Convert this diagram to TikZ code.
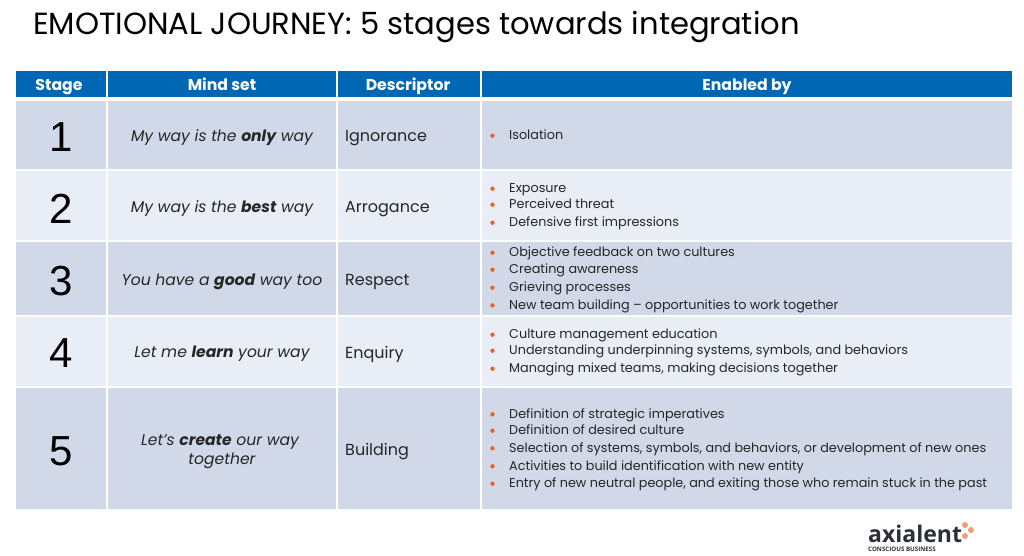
\documentclass[tikz,border=0pt]{standalone}
\usepackage{fontspec}
\setmainfont{Poppins}[Ligatures=ResetAll]
\newfontfamily\numfont{Liberation Sans}
\newfontfamily\logofont{Open Sans}
\definecolor{hdr}{HTML}{0067B5}
\definecolor{rowa}{HTML}{D1D8E8}
\definecolor{rowb}{HTML}{E9EDF5}
\definecolor{dot}{HTML}{E8622A}
\definecolor{ink}{HTML}{262626}
\definecolor{logodot}{HTML}{F0A070}
\definecolor{logoink}{HTML}{2B3038}
\tikzset{
  x=1pt,y=-1pt,
  cell/.style={anchor=north west,inner sep=0pt,outer sep=0pt,draw=none},
  hcell/.style={font=\fontsize{15.7}{16}\selectfont\bfseries,text=white,inner sep=0pt,anchor=base},
  num/.style={font=\numfont\fontsize{42}{42}\selectfont,text=black,inner sep=0pt,anchor=base},
  mind/.style={font=\fontsize{15.6}{19}\selectfont\itshape,text=ink,inner sep=0pt,anchor=base},
  desc/.style={font=\fontsize{16}{18}\selectfont,text=ink,inner sep=0pt,anchor=base west},
  item/.style={font=\fontsize{12.8}{14}\selectfont,text=ink,inner sep=0pt,anchor=base west},
  bul/.style={circle,fill=dot,inner sep=0pt,minimum size=4.4pt},
}
\newcommand{\cellbox}[6]{\node[cell,fill=#6,minimum width=#4-#2,minimum height=#5-#3] (#1) at (#2,#3) {};}
\newcommand{\bitem}[3]{\node[bul] (#1b) at (492.5,#2-4) {};\node[item] (#1) at (509,#2) {#3};}
\begin{document}
\begin{tikzpicture}
\useasboundingbox (0,0) rectangle (1024,556);
\fill[white] (0,0) rectangle (1024,556);
\node[anchor=base west,inner sep=0pt,font=\fontsize{30.6}{33}\selectfont,text=black] (title) at (33,35) {EMOTIONAL JOURNEY: 5 stages towards integration};
% header
\cellbox{h1}{16}{71}{106}{97}{hdr}
\cellbox{h2}{108}{71}{336}{97}{hdr}
\cellbox{h3}{338}{71}{480}{97}{hdr}
\cellbox{h4}{482}{71}{1012}{97}{hdr}
\node[hcell] (h1t) at (59,91) {Stage};
\node[hcell] (h2t) at (222,91) {Mind set};
\node[hcell] (h3t) at (408,91) {Descriptor};
\node[hcell] (h4t) at (747,91) {Enabled by};
% rows
\cellbox{a1}{16}{101}{106}{169}{rowa}
\cellbox{a2}{108}{101}{336}{169}{rowa}
\cellbox{a3}{338}{101}{480}{169}{rowa}
\cellbox{a4}{482}{101}{1012}{169}{rowa}
\cellbox{b1}{16}{171}{106}{240}{rowb}
\cellbox{b2}{108}{171}{336}{240}{rowb}
\cellbox{b3}{338}{171}{480}{240}{rowb}
\cellbox{b4}{482}{171}{1012}{240}{rowb}
\cellbox{c1}{16}{242}{106}{315}{rowa}
\cellbox{c2}{108}{242}{336}{315}{rowa}
\cellbox{c3}{338}{242}{480}{315}{rowa}
\cellbox{c4}{482}{242}{1012}{315}{rowa}
\cellbox{d1}{16}{317}{106}{386}{rowb}
\cellbox{d2}{108}{317}{336}{386}{rowb}
\cellbox{d3}{338}{317}{480}{386}{rowb}
\cellbox{d4}{482}{317}{1012}{386}{rowb}
\cellbox{e1}{16}{388}{106}{509}{rowa}
\cellbox{e2}{108}{388}{336}{509}{rowa}
\cellbox{e3}{338}{388}{480}{509}{rowa}
\cellbox{e4}{482}{388}{1012}{509}{rowa}
% numbers
\node[num] (n1) at (61,152) {1};
\node[num] (n2) at (61,223) {2};
\node[num] (n3) at (61,295) {3};
\node[num] (n4) at (61,367) {4};
\node[num] (n5) at (61,465) {5};
% mind set
\node[mind] (m1) at (222,141.5) {My way is the {\bfseries only} way};
\node[mind] (m2) at (222,212.5) {My way is the {\bfseries best} way};
\node[mind] (m3) at (222,285) {You have a {\bfseries good} way too};
\node[mind] (m4) at (222,357.5) {Let me {\bfseries learn} your way};
\node[mind] (m5) at (220,445) {Let's {\bfseries create} our way};
\node[mind] (m5b) at (222,464) {together};
% descriptors
\node[desc] (d1t) at (345,141.5) {Ignorance};
\node[desc] (d2t) at (345,212.5) {Arrogance};
\node[desc] (d3t) at (345,285) {Respect};
\node[desc] (d4t) at (345,358) {Enquiry};
\node[desc] (d5t) at (345,455) {Building};
% enabled by
\bitem{i1}{139.7}{Isolation}
\bitem{i2}{192.7}{Exposure}
\bitem{i3}{208.7}{Perceived threat}
\bitem{i4}{226.7}{Defensive first impressions}
\bitem{i5}{256.7}{Objective feedback on two cultures}
\bitem{i6}{273.7}{Creating awareness}
\bitem{i7}{291.7}{Grieving processes}
\bitem{i8}{309.4}{New team building – opportunities to work together}
\bitem{i9}{338.7}{Culture management education}
\bitem{i10}{354.7}{Understanding underpinning systems, symbols, and behaviors}
\bitem{i11}{372.7}{Managing mixed teams, making decisions together}
\bitem{i12}{418.3}{Definition of strategic imperatives}
\bitem{i13}{434.7}{Definition of desired culture}
\bitem{i14}{452.3}{Selection of systems, symbols, and behaviors, or development of new ones}
\bitem{i15}{470.3}{Activities to build identification with new entity}
\bitem{i16}{487.7}{Entry of new neutral people, and exiting those who remain stuck in the past}
% logo
\node[anchor=base west,inner sep=0pt,font=\logofont\fontsize{23}{23}\selectfont\bfseries,text=logoink] (logo) at (868,542) {axialent};
\node[anchor=base west,inner sep=0pt,font=\logofont\fontsize{6.2}{6.2}\selectfont\bfseries,text=logoink] (logosub) at (868,551.5) {CONSCIOUS BUSINESS};
\foreach \p/\q in {965/525,971/530,965/536}{\fill[logodot] (\p,\q) circle (3);}
\end{tikzpicture}
\end{document}
